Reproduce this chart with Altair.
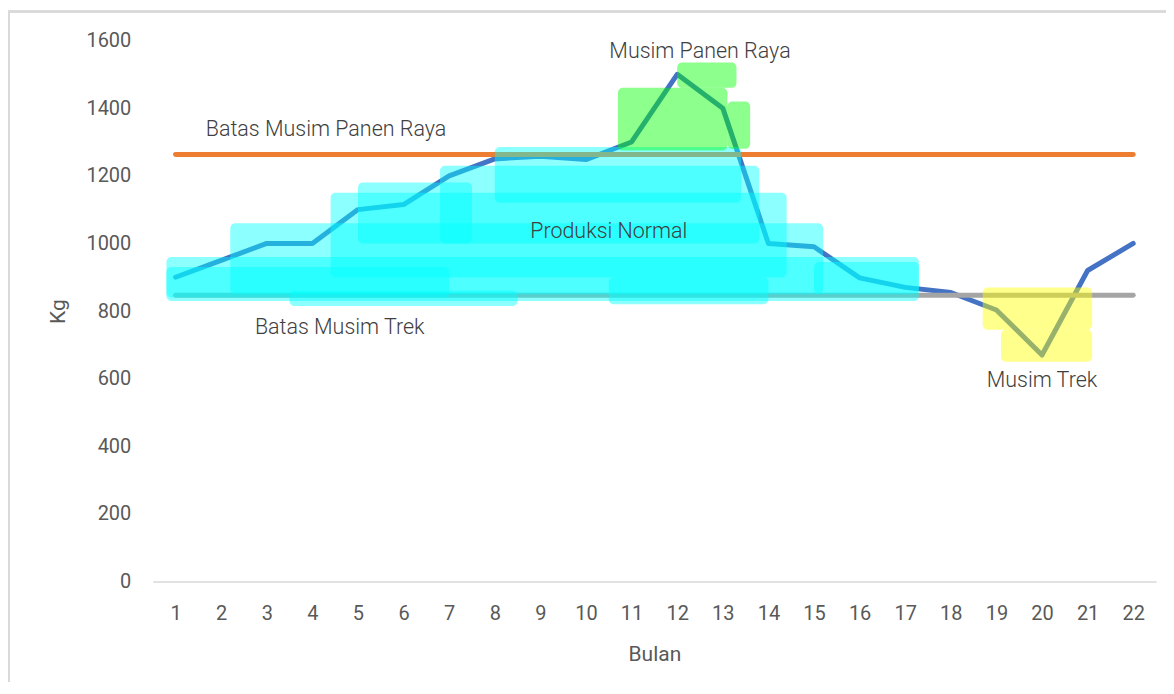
import altair as alt
import pandas as pd

months = list(range(1, 23))
produksi = [900, 950, 1000, 1000, 1100, 1115, 1200, 1250, 1258, 1248, 1300, 1500,
            1400, 1000, 990, 898, 870, 855, 803, 670, 920, 1000]
batas_panen = [1263] * 22
batas_trek = [847] * 22

# highlighter strokes (annotation regions, data units)
hl_x1 = [0.8, 2.2, 4.4, 6.8, 8.0, 5.0, 15.0, 10.5, 0.8, 3.5, 10.7, 12.0, 13.1, 18.7, 19.1]
hl_x2 = [17.3, 15.2, 14.4, 13.8, 13.4, 7.5, 17.3, 14.0, 7.0, 8.5, 13.1, 13.3, 13.6, 21.1, 21.1]
hl_y1 = [830, 850, 900, 1000, 1120, 1000, 850, 820, 840, 815, 1275, 1460, 1280, 745, 650]
hl_y2 = [960, 1060, 1150, 1230, 1285, 1180, 945, 900, 930, 860, 1460, 1535, 1420, 870, 745]
hl_col = ["cyan"] * 10 + ["green"] * 3 + ["yellow"] * 2

ann_text = ["Batas Musim Panen Raya", "Batas Musim Trek", "Produksi Normal", "Musim Panen Raya", "Musim Trek"]
ann_x = [4.3, 4.6, 10.5, 12.5, 20.0]
ann_y = [1335, 750, 1033, 1565, 593]

df = pd.DataFrame({"Bulan": months, "Produksi": produksi, "Panen": batas_panen, "Trek": batas_trek})
hl = pd.DataFrame({"x1": hl_x1, "x2": hl_x2, "y1": hl_y1, "y2": hl_y2, "c": hl_col})
ann = pd.DataFrame({"t": ann_text, "x": ann_x, "y": ann_y})

xs = alt.Scale(domain=[0.5, 22.5], nice=False, zero=False)
ys = alt.Scale(domain=[0, 1600], nice=False)

xaxis = alt.Axis(values=months, title="Bulan", grid=False, ticks=False, domainColor="#D9D9D9",
                 domainWidth=1.5, labelFontSize=20, labelColor="#595959", labelPadding=22,
                 titleFontSize=21, titleColor="#595959", titlePadding=20, titleFont="Roboto",
                 labelFont="Roboto", titleFontWeight="normal", format="d")
yaxis = alt.Axis(values=list(range(0, 1601, 200)), title="Kg", grid=False, ticks=False, domain=False,
                 labelFontSize=20, labelColor="#595959", labelPadding=22, titleFontSize=21,
                 titleColor="#595959", titlePadding=17, titleFont="Roboto", labelFont="Roboto",
                 titleFontWeight="normal", format="d")

base = alt.Chart(df)

def line(field, color):
    return base.mark_line(color=color, strokeWidth=5, strokeCap="round", strokeJoin="round").encode(
        x=alt.X("Bulan:Q", scale=xs, axis=xaxis),
        y=alt.Y(f"{field}:Q", scale=ys, axis=yaxis),
    )

l1 = line("Produksi", "#4472C4")
l2 = line("Panen", "#ED7D31")
l3 = line("Trek", "#A5A5A5")

rects = alt.Chart(hl).mark_rect(opacity=0.45, cornerRadius=5).encode(
    x=alt.X("x1:Q", scale=xs), x2="x2:Q",
    y=alt.Y("y1:Q", scale=ys), y2="y2:Q",
    color=alt.Color("c:N", scale=alt.Scale(domain=["cyan", "green", "yellow"],
                                          range=["#00FFFF", "#00FF00", "#FFFF00"]), legend=None),
)

texts = alt.Chart(ann).mark_text(font="Roboto", fontWeight=300, fontSize=21.5, color="#404040",
                                 align="center", baseline="middle").encode(
    x=alt.X("x:Q", scale=xs), y=alt.Y("y:Q", scale=ys), text="t:N")

frame = alt.Chart(df).mark_rect(fill=None, stroke="#D9D9D9", strokeWidth=1.5).encode(
    x=alt.value(-144.5), x2=alt.value(1040), y=alt.value(-29), y2=alt.value(700))

chart = alt.layer(frame, l1, l2, l3, rects, texts).properties(
    width=1005, height=542,
    autosize=alt.AutoSizeParams(type="none"),
    padding={"left": 145, "top": 32, "right": 10, "bottom": 100},
).configure_view(stroke=None)

chart.save("out.html", embed_options={"renderer": "svg", "actions": False})
